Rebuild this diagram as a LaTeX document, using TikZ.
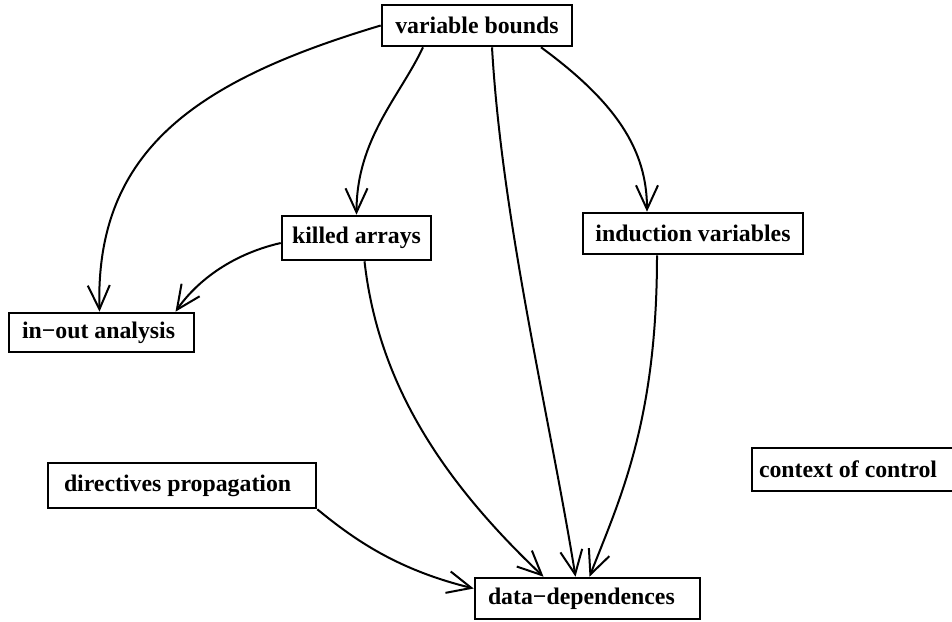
\documentclass[tikz,border=0pt]{standalone}
\usepackage{fontspec}
\setmainfont{Liberation Serif}
\usetikzlibrary{arrows.meta}

\tikzset{
  phase/.style={draw, line width=1.3pt, fill=white, inner sep=0pt, minimum height=20.5pt,
    font=\fontsize{11.9}{14}\selectfont\bfseries},
  dep/.style={-{Straight Barb[length=12pt,width=11pt]}, line width=1pt},
}

\begin{document}
\begin{tikzpicture}[x=0.5pt, y=-0.5pt]
            \useasboundingbox (0,0) rectangle (952,621);

            \node[phase, minimum width=95pt]                    (bounds)     at (477,25.5)  {variable bounds};
            \node[phase, minimum width=74.5pt, minimum height=22pt] (killed) at (356.5,238) {killed arrays};
            \node[phase, minimum width=110pt]                   (induct)     at (693,233.5) {induction variables};
            \node[phase, inner xsep=6.5pt, minimum height=19.5pt] (inout) at (101.5,332.5) {\makebox[79.5pt][l]{in−out analysis}};
            \node[phase, inner xsep=8pt, minimum height=22.5pt] (directives) at (182,485.5) {\makebox[118pt][l]{directives propagation}};
            \node[phase, inner xsep=6.5pt]                      (deps)       at (587.5,598.5) {\makebox[99.5pt][l]{data−dependences}};
            \node[phase, inner xsep=3.5pt, minimum height=21.5pt] (context) at (854,469.5) {\makebox[95pt][l]{context of control}};

            \draw[dep] (bounds.west) .. controls +(-182,54.5) and +(-4.5,-163) .. ([xshift=-1pt]inout.north) ; %
            \draw[dep] ([xshift=-27pt]bounds.south) .. controls +(-23,49) and +(0,-76) .. (killed.north) ; %
            \draw[dep] ([xshift=7.5pt]bounds.south) .. controls +(10,174) and +(-25.5,-158) .. ([xshift=-6pt]deps.north) ; %
            \draw[dep] ([xshift=32pt]bounds.south) .. controls +(75,55) and +(0,-62) .. ([xshift=-23pt]induct.north) ; %
            \draw[dep] ([yshift=-2.5pt]killed.west) .. controls +(-52,12) and +(19.5,-28) .. ([xshift=37pt]inout.north) ; %
            \draw[dep] ([xshift=4pt]killed.south) .. controls +(13.5,120) and +(-103.5,-98) .. ([xshift=-22pt]deps.north) ; %
            \draw[dep] ([xshift=-18pt]induct.south) .. controls +(0,166) and +(30.5,-78) .. ([xshift=1pt]deps.north) ; %
            \draw[dep] (directives.south east) .. controls +(39,32) and +(-75,-18.5) .. ([yshift=5pt]deps.west) ; %

        \end{tikzpicture}
\end{document}
